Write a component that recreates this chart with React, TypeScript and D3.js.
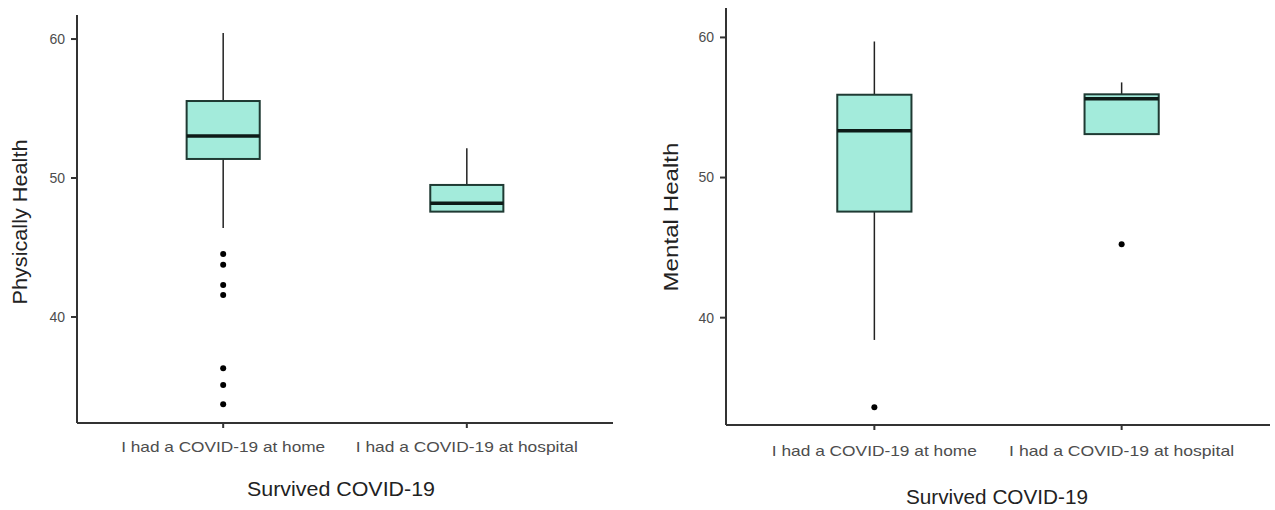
import { useEffect, useRef } from "react";
import * as d3 from "d3";

const categories = ["I had a COVID-19 at home", "I had a COVID-19 at hospital"];

// [lower whisker, q1, median, q3, upper whisker]
const physicalStats = [
  [46.4, 51.37, 53.02, 55.54, 60.43],
  [47.58, 47.58, 48.18, 49.5, 52.14],
];
const physicalOutliers = [[44.53, 43.76, 42.3, 41.58, 36.31, 35.11, 33.72], []];

const mentalStats = [
  [38.41, 47.57, 53.34, 55.91, 59.71],
  [53.1, 53.1, 55.62, 55.94, 56.79],
];
const mentalOutliers = [[33.6], [45.24]];

const yTicks = [40, 50, 60];
const xTitle = "Survived COVID-19";

const FONT = "'Liberation Sans', Arial, sans-serif";

const PANELS = [
  {
    title: "Physically Health",
    stats: physicalStats,
    outliers: physicalOutliers,
    yDomain: [32.37, 61.73],
    x: [77, 613],
    y: [423, 15],
    yTitle: { x: 20, y: 222, len: 165 },
    xTitle: { x: 341, y: 496, len: 188 },
    labelY: 452,
    labelLen: [204, 222],
  },
  {
    title: "Mental Health",
    stats: mentalStats,
    outliers: mentalOutliers,
    yDomain: [32.34, 62.1],
    x: [726, 1270],
    y: [425, 8],
    yTitle: { x: 671, y: 217, len: 149 },
    xTitle: { x: 997, y: 504, len: 182 },
    labelY: 456,
    labelLen: [205, 225],
  },
];

const App = () => {
  const svgRef = useRef(null);

  useEffect(() => {
    const svg = d3.select(svgRef.current);
    svg.selectAll("*").remove();

    PANELS.forEach((p) => {
      const g = svg.append("g");
      const xScale = d3.scalePoint().domain(categories).range(p.x).padding(0.6);
      const yScale = d3.scaleLinear().domain(p.yDomain).range(p.y);
      const boxW = xScale.step() * 0.3;

      // axes lines
      g.append("line")
        .attr("x1", p.x[0]).attr("x2", p.x[0])
        .attr("y1", p.y[0]).attr("y2", p.y[1])
        .attr("stroke", "#333").attr("stroke-width", 2);
      g.append("line")
        .attr("x1", p.x[0]).attr("x2", p.x[1])
        .attr("y1", p.y[0]).attr("y2", p.y[0])
        .attr("stroke", "#333").attr("stroke-width", 2);

      // y ticks
      yTicks.forEach((t) => {
        g.append("line")
          .attr("x1", p.x[0] - 6).attr("x2", p.x[0])
          .attr("y1", yScale(t)).attr("y2", yScale(t))
          .attr("stroke", "#333").attr("stroke-width", 2);
        g.append("text")
          .attr("x", p.x[0] - 12)
          .attr("y", yScale(t))
          .attr("dy", "0.35em")
          .attr("text-anchor", "end")
          .attr("font-family", FONT)
          .attr("font-size", 14)
          .attr("fill", "#4d4d4d")
          .text(t);
      });

      // x ticks + labels
      categories.forEach((c, i) => {
        g.append("line")
          .attr("x1", xScale(c)).attr("x2", xScale(c))
          .attr("y1", p.y[0]).attr("y2", p.y[0] + 5)
          .attr("stroke", "#333").attr("stroke-width", 2);
        g.append("text")
          .attr("x", xScale(c))
          .attr("y", p.labelY)
          .attr("text-anchor", "middle")
          .attr("font-family", FONT)
          .attr("font-size", 15)
          .attr("fill", "#4d4d4d")
          .attr("textLength", p.labelLen[i])
          .attr("lengthAdjust", "spacingAndGlyphs")
          .text(c);
      });

      // boxes
      p.stats.forEach(([lo, q1, med, q3, hi], i) => {
        const cx = xScale(categories[i]);
        g.append("line")
          .attr("x1", cx).attr("x2", cx)
          .attr("y1", yScale(hi)).attr("y2", yScale(q3))
          .attr("stroke", "#222").attr("stroke-width", 1.5);
        g.append("line")
          .attr("x1", cx).attr("x2", cx)
          .attr("y1", yScale(q1)).attr("y2", yScale(lo))
          .attr("stroke", "#222").attr("stroke-width", 1.5);
        g.append("rect")
          .attr("x", cx - boxW / 2)
          .attr("y", yScale(q3))
          .attr("width", boxW)
          .attr("height", yScale(q1) - yScale(q3))
          .attr("fill", "#a3ebdb")
          .attr("stroke", "#1f3a33")
          .attr("stroke-width", 2);
        g.append("line")
          .attr("x1", cx - boxW / 2).attr("x2", cx + boxW / 2)
          .attr("y1", yScale(med)).attr("y2", yScale(med))
          .attr("stroke", "#0d1a17").attr("stroke-width", 3.5);
        p.outliers[i].forEach((v) => {
          g.append("circle")
            .attr("cx", cx).attr("cy", yScale(v))
            .attr("r", 3).attr("fill", "#000");
        });
      });

      // axis titles
      g.append("text")
        .attr("transform", `translate(${p.yTitle.x},${p.yTitle.y}) rotate(-90)`)
        .attr("text-anchor", "middle")
        .attr("dy", "0.35em")
        .attr("font-family", FONT)
        .attr("font-size", 20)
        .attr("fill", "#222")
        .attr("textLength", p.yTitle.len)
        .attr("lengthAdjust", "spacingAndGlyphs")
        .text(p.title);
      g.append("text")
        .attr("x", p.xTitle.x)
        .attr("y", p.xTitle.y)
        .attr("text-anchor", "middle")
        .attr("font-family", FONT)
        .attr("font-size", 20)
        .attr("fill", "#222")
        .attr("textLength", p.xTitle.len)
        .attr("lengthAdjust", "spacingAndGlyphs")
        .text(xTitle);
    });
  }, []);

  return (
    <svg
      ref={svgRef}
      width={1275}
      height={510}
      style={{ position: "absolute", left: 0, top: 0, background: "#fff" }}
    ></svg>
  );
};

export default App;
